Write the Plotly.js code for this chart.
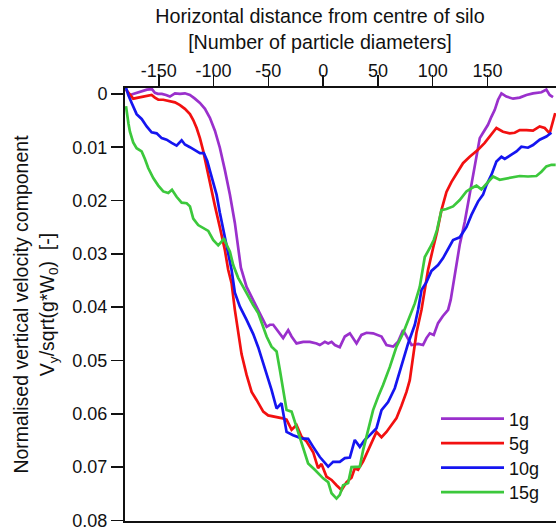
<!DOCTYPE html>
<html>
<head>
<meta charset="utf-8">
<script src="https://cdn.plot.ly/plotly-3.0.1.min.js"></script>
<style>
html,body{margin:0;padding:0;background:#fff;overflow:hidden;}
#chart{width:556px;height:532px;}
</style>
</head>
<body>
<div id="chart"></div>
<script>
// Series names
const seriesNames = ["1g", "5g", "10g", "15g"];

// Horizontal distance [particle diameters] and normalised vertical velocity for each series
const x1g = [-176.4,-171.8,-166.3,-160.9,-156.3,-153.6,-150.8,-147.2,-143.5,-139.9,-135.3,-130.7,-126.2,-121.6,-117.1,-112.5,-107.9,-103.4,-98.8,-94.3,-89.7,-85.1,-80.6,-77.8,-75.1,-69.9,-65.3,-60.8,-56.2,-51.6,-48.6,-45.6,-41.1,-36.5,-31.9,-28.8,-24.3,-18.2,-12.1,-6.0,-3.0,1.6,4.6,7.7,10.7,15.2,19.8,24.4,30.5,35.0,39.6,45.6,53.3,57.8,63.9,68.4,73.0,76.1,80.7,86.7,91.2,94.3,97.4,101.0,104.9,109.2,114.1,116.5,118.6,121.7,124.7,129.3,133.8,138.4,143.0,146.0,150.5,153.6,156.7,159.7,162.8,167.3,173.4,179.5,185.6,191.6,199.3,203.8,206.8,209.9];
const y1g = [0.0002,-0.0001,-0.0004,-0.0008,-0.0009,-0.0002,0,0,0.0002,0.0005,-0.0001,0,-0.0001,0.0002,0.0009,0.0017,0.0028,0.0045,0.0069,0.0101,0.0143,0.0189,0.0242,0.0283,0.0326,0.0362,0.0380,0.0399,0.0418,0.0437,0.0433,0.0433,0.0446,0.0458,0.0443,0.0455,0.0468,0.0465,0.0465,0.0468,0.0471,0.0465,0.0468,0.0465,0.0471,0.0475,0.0455,0.0449,0.0468,0.0452,0.0448,0.0449,0.0455,0.0471,0.0474,0.0465,0.0443,0.0455,0.0471,0.0469,0.0471,0.0458,0.0449,0.0452,0.0430,0.0417,0.0405,0.0386,0.0358,0.0323,0.0283,0.0240,0.0189,0.0133,0.0083,0.0073,0.0058,0.0043,0.0030,0.0011,-0.0001,0.0005,0.0009,0.0007,0.0002,-0.0001,-0.0003,-0.0008,0.0002,0.0006];

const x5g = [-180.0,-176.4,-173.4,-168.8,-162.7,-156.6,-153.6,-150.5,-146.0,-139.9,-135.3,-130.7,-126.2,-121.6,-118.6,-115.5,-112.5,-109.5,-106.4,-103.4,-98.8,-94.3,-89.7,-86.7,-83.6,-80.6,-77.6,-74.5,-69.9,-65.3,-60.8,-54.7,-50.2,-44.1,-38.0,-33.4,-28.8,-24.3,-19.7,-15.1,-9.1,-4.6,-1.5,3.1,7.7,12.2,16.8,21.4,25.9,28.9,31.9,36.5,41.1,44.2,48.7,53.3,57.8,62.4,67.0,71.5,76.1,79.1,82.1,85.2,89.8,92.8,95.8,100.4,104.0,108.0,112.6,117.2,121.7,127.7,133.8,141.4,147.5,152.1,158.2,164.2,170.3,174.9,179.5,185.6,191.6,197.7,202.3,206.8,209.9,211.9];
const y5g = [-0.0008,0.0002,0.0009,0.0007,0.0005,0.0002,0.0007,0.0011,0.0011,0.0014,0.0016,0.0021,0.0028,0.0038,0.0049,0.0064,0.0083,0.0107,0.0137,0.0171,0.0210,0.0250,0.0293,0.0330,0.0355,0.0405,0.0448,0.0488,0.0527,0.0559,0.0574,0.0596,0.0603,0.0605,0.0608,0.0611,0.0630,0.0621,0.0643,0.0652,0.0672,0.0702,0.0694,0.0718,0.0724,0.0734,0.0743,0.0728,0.0720,0.0702,0.0705,0.0689,0.0668,0.0652,0.0634,0.0644,0.0634,0.0621,0.0608,0.0585,0.0559,0.0537,0.0492,0.0448,0.0405,0.0368,0.0330,0.0289,0.0259,0.0218,0.0184,0.0165,0.0149,0.0130,0.0118,0.0105,0.0092,0.0080,0.0064,0.0071,0.0074,0.0073,0.0068,0.0068,0.0069,0.0061,0.0064,0.0074,0.0052,0.0036];

const x10g = [-180.5,-177.9,-174.8,-170.3,-165.7,-161.1,-156.6,-152.0,-147.4,-142.9,-138.3,-133.8,-129.2,-126.2,-121.6,-117.1,-112.5,-108.9,-105.8,-103.4,-100.4,-97.3,-94.3,-91.2,-88.1,-83.6,-80.6,-76.0,-69.9,-63.9,-59.3,-54.7,-50.2,-47.1,-42.5,-38.0,-33.4,-27.4,-19.7,-13.7,-9.1,-3.0,4.6,9.1,15.2,19.8,24.4,28.9,33.5,38.0,42.6,48.7,53.3,59.3,65.4,71.5,77.6,83.7,86.7,89.8,94.3,98.9,104.9,109.5,114.1,118.6,124.7,130.8,135.4,141.4,146.0,149.1,153.6,158.2,162.8,165.8,171.9,176.5,181.0,187.0,191.6,197.7,203.8,208.4];
const y10g = [-0.0015,0.0002,0.0017,0.0038,0.0047,0.0061,0.0072,0.0074,0.0083,0.0086,0.0092,0.0097,0.0087,0.0095,0.0100,0.0105,0.0111,0.0111,0.0126,0.0144,0.0165,0.0189,0.0223,0.0255,0.0285,0.0330,0.0373,0.0399,0.0424,0.0450,0.0475,0.0505,0.0531,0.0555,0.0590,0.0580,0.0634,0.0640,0.0646,0.0647,0.0662,0.0681,0.0699,0.0690,0.0690,0.0683,0.0682,0.0649,0.0662,0.0649,0.0640,0.0627,0.0593,0.0578,0.0552,0.0512,0.0468,0.0433,0.0405,0.0368,0.0353,0.0332,0.0321,0.0308,0.0291,0.0274,0.0269,0.0250,0.0227,0.0202,0.0189,0.0171,0.0152,0.0127,0.0118,0.0122,0.0114,0.0108,0.0099,0.0101,0.0096,0.0086,0.0080,0.0073];

const x15g = [-180.0,-178.8,-177.7,-176.4,-173.4,-170.3,-165.7,-162.7,-159.7,-155.1,-150.5,-146.0,-141.4,-138.0,-133.8,-129.2,-124.6,-121.6,-118.6,-114.1,-109.5,-104.9,-100.4,-95.8,-92.7,-90.6,-88.1,-85.1,-82.1,-77.6,-73.0,-68.4,-63.9,-59.3,-56.2,-51.6,-47.1,-42.5,-39.5,-36.5,-33.4,-28.8,-24.3,-19.7,-13.7,-7.6,0,4.6,7.7,12.2,15.2,18.2,22.8,25.9,30.5,33.5,36.5,41.1,45.6,50.2,54.7,60.9,67.0,73.0,79.1,83.7,88.2,91.2,92.8,97.4,101.0,104.0,108.0,112.6,118.6,124.7,130.8,135.4,140.0,144.5,149.1,155.1,161.2,167.3,173.4,179.5,187.0,194.7,199.3,203.8,208.4,212.3];
const y15g = [0.0023,0.0045,0.0056,0.0071,0.0091,0.0102,0.0108,0.0122,0.0139,0.0158,0.0172,0.0183,0.0186,0.0180,0.0193,0.0204,0.0205,0.0211,0.0234,0.0246,0.0252,0.0257,0.0274,0.0284,0.0277,0.0271,0.0283,0.0296,0.0321,0.0345,0.0362,0.0380,0.0396,0.0411,0.0430,0.0455,0.0474,0.0483,0.0518,0.0555,0.0593,0.0596,0.0624,0.0655,0.0693,0.0705,0.0721,0.0728,0.0749,0.0759,0.0752,0.0734,0.0730,0.0700,0.0699,0.0699,0.0668,0.0630,0.0593,0.0568,0.0546,0.0512,0.0474,0.0449,0.0418,0.0393,0.0362,0.0330,0.0306,0.0289,0.0274,0.0255,0.0218,0.0216,0.0211,0.0199,0.0183,0.0177,0.0172,0.0179,0.0168,0.0155,0.0161,0.0159,0.0157,0.0154,0.0155,0.0154,0.0146,0.0136,0.0133,0.0133];

// Tick values and labels
const xTickVals = [-150, -100, -50, 0, 50, 100, 150];
const xTickText = ["-150", "-100", "-50", "0", "50", "100", "150"];
const yTickVals = [0, 0.01, 0.02, 0.03, 0.04, 0.05, 0.06, 0.07, 0.08];
const yTickText = ["0", "0.01", "0.02", "0.03", "0.04", "0.05", "0.06", "0.07", "0.08"];

const colors = ["#9A30CC", "#F21010", "#1515F0", "#3CC83C"];
const xs = [x1g, x5g, x10g, x15g];
const ys = [y1g, y5g, y10g, y15g];
const legendIds = ["legend", "legend2", "legend3", "legend4"];

const FONT = "Liberation Sans, Arial, Helvetica, sans-serif";
const INK = "#111111";

const traces = seriesNames.map((name, i) => ({
  type: "scatter",
  mode: "lines",
  name: name,
  legend: legendIds[i],
  x: xs[i],
  y: ys[i],
  line: {color: colors[i], width: 2.7},
}));

// plot area in pixels: left 125, right 556, top 88, bottom 521
const legendRowsPx = [419, 443.5, 468, 492.5];
function legendAt(ypx) {
  return {
    x: (436 - 125) / 431,
    xanchor: "left",
    y: (521 - ypx) / 433,
    yanchor: "middle",
    bgcolor: "rgba(255,255,255,0)",
    borderwidth: 0,
    font: {family: FONT, size: 18, color: INK},
    itemwidth: 63,
  };
}

const layout = {
  width: 556,
  height: 532,
  margin: {l: 125, r: 0, t: 88, b: 11, pad: 0},
  paper_bgcolor: "#ffffff",
  plot_bgcolor: "#ffffff",
  font: {family: FONT, size: 18, color: INK},
  showlegend: true,
  title: {
    text: "Horizontal distance from centre of silo<br>[Number of particle diameters]",
    font: {family: FONT, size: 19.7, color: INK},
    x: 320 / 556,
    xref: "container",
    xanchor: "center",
    y: 1 - 23 / 532,
    yref: "container",
    yanchor: "top",
  },
  xaxis: {
    side: "top",
    range: [-180.9, 212.6],
    tickmode: "array",
    tickvals: xTickVals,
    ticktext: xTickText,
    ticks: "outside",
    ticklen: 11,
    tickwidth: 1.5,
    tickcolor: INK,
    ticklabelstandoff: -9,
    showline: true,
    linewidth: 2,
    linecolor: INK,
    mirror: true,
    showgrid: false,
    zeroline: false,
    tickfont: {family: FONT, size: 18, color: INK},
  },
  yaxis: {
    range: [0.0801, -0.0011],
    tickmode: "array",
    tickvals: yTickVals,
    ticktext: yTickText,
    ticks: "outside",
    ticklen: 12,
    tickwidth: 1.5,
    tickcolor: INK,
    showline: true,
    linewidth: 2,
    linecolor: INK,
    showgrid: false,
    zeroline: false,
    tickfont: {family: FONT, size: 18, color: INK},
    title: {
      text: "Normalised vertical velocity component<br>V<sub>y</sub>/sqrt(g*W<sub>0</sub>)  [-]",
      font: {family: FONT, size: 19.5, color: INK},
      standoff: 13,
    },
  },
  legend: legendAt(legendRowsPx[0]),
  legend2: legendAt(legendRowsPx[1]),
  legend3: legendAt(legendRowsPx[2]),
  legend4: legendAt(legendRowsPx[3]),
};

Plotly.newPlot("chart", traces, layout, {staticPlot: true, displayModeBar: false});
</script>
</body>
</html>
